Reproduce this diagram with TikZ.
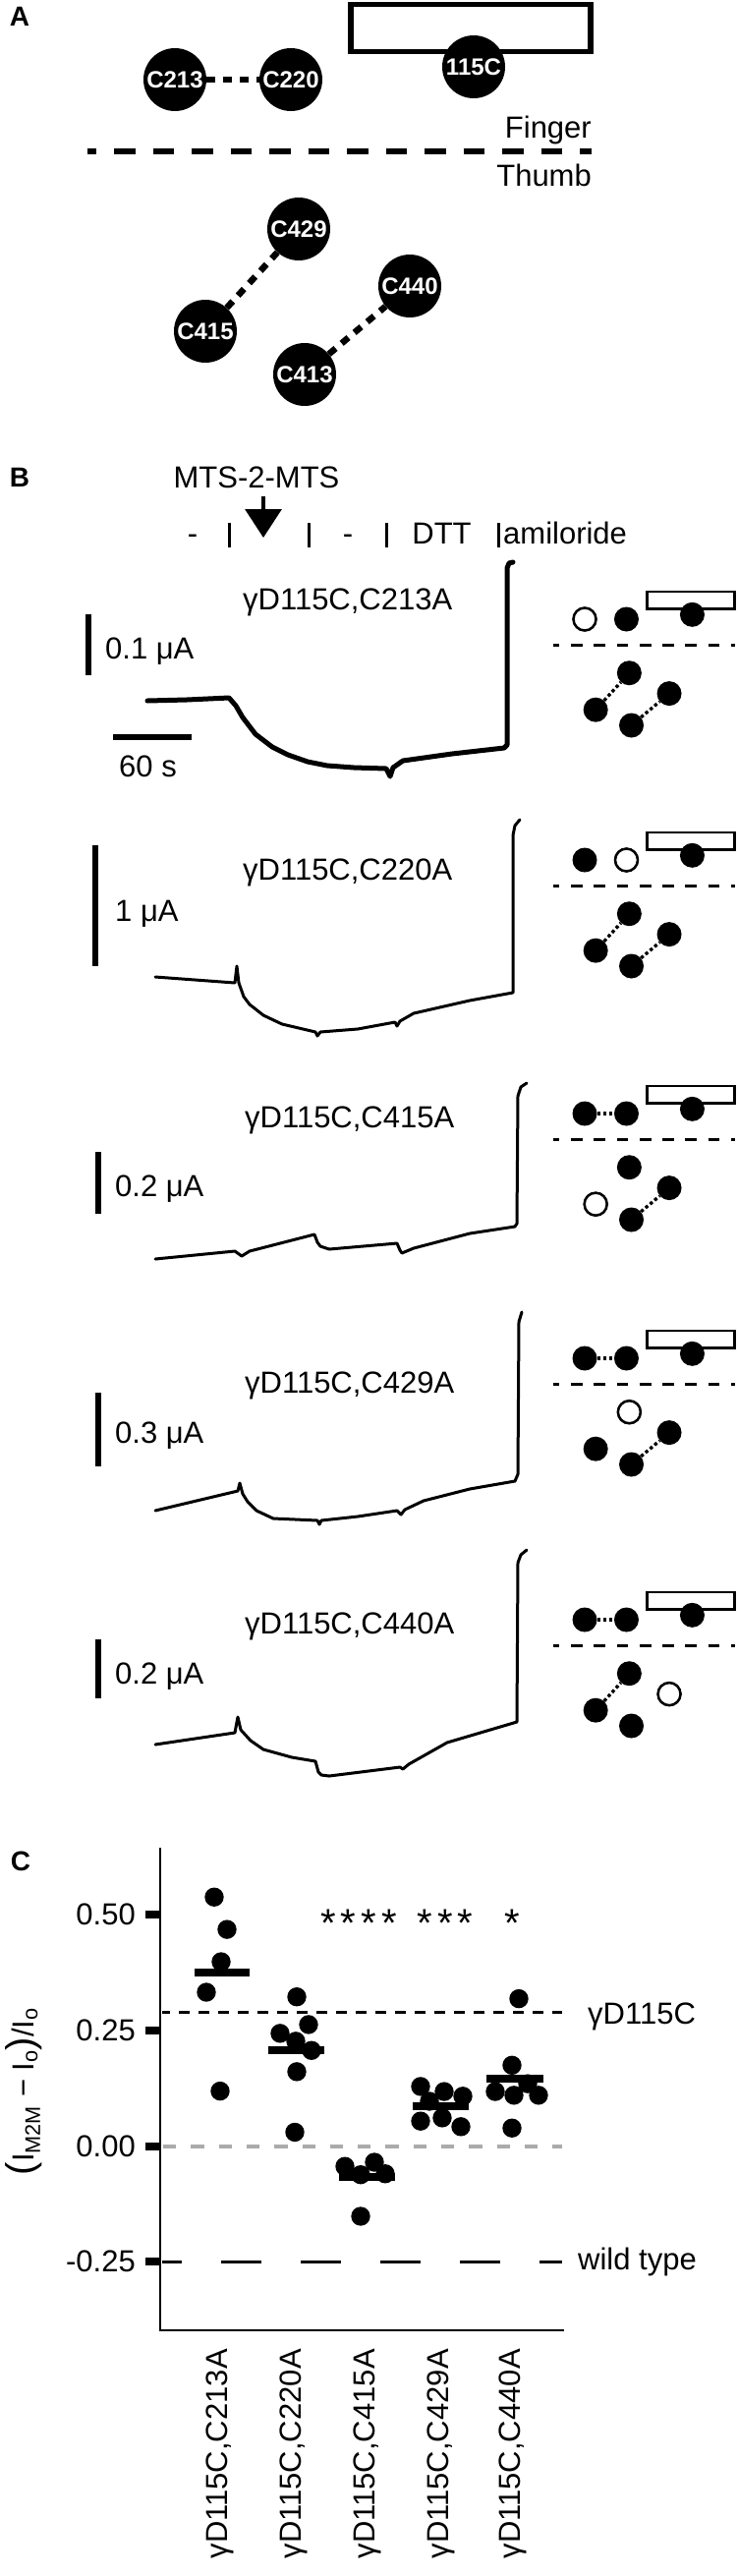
\documentclass[tikz,border=0pt]{standalone}
\usepackage{fontspec}
\setmainfont{Liberation Sans}
\usetikzlibrary{arrows.meta}

\begin{document}
\begin{tikzpicture}[x=1pt, y=-1pt,
		txt/.style={inner sep=0pt, font=\fontsize{31}{36}\selectfont},
		panel/.style={inner sep=0pt, font=\bfseries\fontsize{28}{32}\selectfont},
		cys/.style={circle, fill=black, text=white, minimum size=64pt, inner sep=0pt, font=\bfseries\fontsize{24}{24}\selectfont},
		link/.style={line width=6.5pt, dash pattern=on 9pt off 8pt},
		cur/.style={line width=3pt, line join=round, line cap=round},
		scalebar/.style={line width=6pt},
		minidot/.style={circle, fill=black, minimum size=25pt, inner sep=0pt},
		miniopen/.style={circle, draw=black, fill=white, line width=2.5pt, minimum size=23pt, inner sep=0pt},
		minilink/.style={line width=3.3pt, dash pattern=on 3.3pt off 2.7pt},
		meanbar/.style={line width=8pt},
		tickmark/.style={fill=black}]
	\useasboundingbox (0,0) rectangle (750,2621);

	\node[panel] (labA) at (20,17) {A};
	\draw[line width=5.5pt] (357,4.5) rectangle (601,52.5);
	\node[cys] (c213) at (178,81) {C213};
	\node[cys] (c220) at (296,81) {C220};
	\node[cys] (c115) at (482,68) {115C};
	\node[cys] (c429) at (304,233) {C429};
	\node[cys] (c440) at (417,291) {C440};
	\node[cys] (c415) at (209,337) {C415};
	\node[cys] (c413) at (310,381) {C413};
	\draw[link] (c213) -- (c220);
	\draw[link] (c415) -- (c429);
	\draw[link] (c413) -- (c440);
	\node[txt, anchor=base east] (finger) at (602,140) {Finger};
	\node[txt, anchor=base east] (thumb) at (602,189) {Thumb};
	\coordinate (splitL) at (88.5,154);
	\coordinate (splitR) at (602,154);
	\draw[line width=6.5pt, dash pattern=on 21.5pt off 18pt, dash phase=12pt] (splitL) -- (splitR);

	\node[panel] (labB) at (20,486) {B};
	\node[txt] (mts) at (261,486) {MTS-2-MTS};
	\node[txt, anchor=base] (wash1) at (196,553) {-};
	\node[txt, anchor=base] (wash2) at (354,553) {-};
	\node[txt, anchor=base] (dtt) at (449.5,553) {DTT};
	\node[txt, anchor=base west] (amil) at (512,553) {amiloride};
	\foreach \bx in {233,314,393,507}
		\draw[line width=3pt] (\bx,532) -- (\bx,557);
	\coordinate (mtsTop) at (268,505);
	\coordinate (mtsTip) at (268,547);
	\draw[line width=3.3pt, -{Triangle[width=37pt,length=29pt]}] (mtsTop) -- (mtsTip);

	\draw[cur, line width=5pt] (150,713) -- (190,712) -- (233,710) -- (240,718) -- (247,730) -- (260,747) -- (277,760) -- (293,768) -- (313,775) -- (333,779) -- (360,781) -- (393,782) -- (397,790) -- (400,781) -- (410,774) -- (460,767) -- (513,761) -- (516,758) -- (516,578) -- (518,573) -- (522,572);
	\draw[cur] (158,994) -- (239,1000) -- (241,983) -- (243,1000) -- (248,1014) -- (254,1022) -- (268,1033) -- (287,1042) -- (321,1050) -- (323,1054) -- (326,1050) -- (364,1047) -- (402,1040) -- (404,1044) -- (407,1039) -- (421,1031) -- (478,1018) -- (522,1010) -- (522,850) -- (524,840) -- (529,834);
	\draw[cur] (158,1281) -- (239,1273) -- (246,1278) -- (254,1273) -- (320,1256) -- (323,1264) -- (326,1268) -- (335,1271) -- (404,1265) -- (407,1272) -- (409,1275) -- (421,1270) -- (478,1255) -- (524,1248) -- (526,1245) -- (527,1115) -- (530,1106) -- (536,1102);
	\draw[cur] (158,1537) -- (242,1517) -- (244,1509) -- (247,1520) -- (252,1528) -- (261,1537) -- (278,1545) -- (323,1547) -- (325,1551) -- (327,1547) -- (364,1543) -- (404,1537) -- (408,1541) -- (412,1536) -- (431,1527) -- (478,1515) -- (524,1507) -- (527,1500) -- (528,1345) -- (531,1335);
	\draw[cur] (158,1775) -- (239,1763) -- (242,1747) -- (245,1760) -- (255,1771) -- (268,1780) -- (297,1788) -- (321,1792) -- (324,1803) -- (327,1806) -- (335,1807) -- (407,1798) -- (410,1800) -- (416,1795) -- (455,1773) -- (526,1752) -- (527,1590) -- (530,1582) -- (536,1577);

	\draw[scalebar] (90,625) -- (90,687);
	\node[txt, anchor=base west] (sc1) at (107,670) {0.1 μA};
	\draw[scalebar] (115,750) -- (195,750);
	\node[txt, anchor=base] (sec) at (150.5,790) {60 s};
	\draw[scalebar] (97,860) -- (97,983);
	\node[txt, anchor=base west] (sc2) at (117,937) {1 μA};
	\draw[scalebar] (100,1172) -- (100,1235);
	\node[txt, anchor=base west] (sc3) at (117,1217) {0.2 μA};
	\draw[scalebar] (100,1417) -- (100,1492);
	\node[txt, anchor=base west] (sc4) at (117,1468) {0.3 μA};
	\draw[scalebar] (100,1668) -- (100,1728);
	\node[txt, anchor=base west] (sc5) at (117,1713) {0.2 μA};

	\node[txt, anchor=base west] (mut1) at (247,620) {γD115C,C213A};
	\node[txt, anchor=base west] (mut2) at (247,895) {γD115C,C220A};
	\node[txt, anchor=base west] (mut3) at (249,1147) {γD115C,C415A};
	\node[txt, anchor=base west] (mut4) at (249,1417) {γD115C,C429A};
	\node[txt, anchor=base west] (mut5) at (249,1662) {γD115C,C440A};

	\foreach \yy/\open [count=\i] in {630/C213,875/C220,1133/C415,1382/C429,1648/C440} {
		\begin{scope}[shift={(595,\yy)}, scale=0.36]
			\draw[line width=2.7pt] (176,-77.5) rectangle (423,-28.5);
			\draw[line width=3.3pt, dash pattern=on 11.7pt off 11.6pt, dash phase=5pt] (-90,73) -- (425,73);
			\foreach \nm/\px/\py in {C213/0/0,C220/118/0,115C/304/-13,C429/126/152,C415/31/256,C440/239/210,C413/132/300}
				\node[minidot] (m\i-\nm) at (\px,\py) {};
			\node[miniopen] (m\i-open) at (m\i-\open) {};
			\foreach \a/\b in {C213/C220,C415/C429,C413/C440} {
				\ifx\a\open\else\ifx\b\open\else
					\draw[minilink] (m\i-\a) -- (m\i-\b);
				\fi\fi
			}
		\end{scope}
	}

	\node[panel] (labC) at (21,1894) {C};
	\draw[line width=2.7pt] (163,1880) -- (163,2371) -- (574,2371);
	\foreach \ty/\tl in {1948/0.50,2066/0.25,2184/0.00,2301/-0.25} {
		\fill[tickmark] (148,\ty-4) rectangle (163,\ty+4);
		\node[txt, anchor=east] (t\tl) at (138,\ty) {\tl};
	}
	\node[txt, rotate=90] (ylab) at (24,2128) {{\fontsize{40}{40}\selectfont(}I\textsubscript{M2M} − I\textsubscript{o}{\fontsize{40}{40}\selectfont)}/I\textsubscript{o}};

	\begin{scope}[shift={(0,2184)}, y=470pt]
		\draw[line width=3pt, dash pattern=on 11pt off 9pt, dash phase=3pt] (165,0.29) -- (572,0.29);
		\draw[line width=3.3pt, black!33, dash pattern=on 13.3pt off 15pt] (166,0) -- (572,0);
		\draw[line width=3.3pt, dash pattern=on 41pt off 40pt, dash phase=21pt] (165,-0.25) -- (572,-0.25);
		\foreach \px/\py in {218/0.54,231/0.47,225/0.40,210/0.334,224/0.12,
				302/0.324,285/0.245,314/0.264,301/0.228,317/0.208,302/0.162,300/0.031,
				351/-0.043,381/-0.034,367/-0.061,392/-0.059,367/-0.151,
				428/0.13,452/0.119,471/0.109,437/0.098,428/0.055,450/0.062,469/0.043,
				528/0.32,521/0.176,537/0.136,504/0.119,523/0.111,548/0.111,521/0.04}
			\fill (\px,\py) circle[radius=9.7pt];
		\draw[meanbar] (198,0.376) -- (254,0.376);
		\draw[meanbar] (273,0.208) -- (330,0.208);
		\draw[meanbar] (345,-0.066) -- (402,-0.066);
		\draw[meanbar] (420,0.087) -- (477,0.087);
		\draw[meanbar] (495,0.146) -- (553,0.146);
	\end{scope}

	\node[inner sep=0pt, font=\fontsize{40}{40}\selectfont] (sig3) at (365,1957) {*\kern5pt*\kern5pt*\kern5pt*};
	\node[inner sep=0pt, font=\fontsize{40}{40}\selectfont] (sig4) at (453,1957) {*\kern5pt*\kern5pt*};
	\node[inner sep=0pt, font=\fontsize{40}{40}\selectfont] (sig5) at (521,1957) {*};
	\node[txt, anchor=base west] (refwt) at (598,2059) {γD115C};
	\node[txt, anchor=base west] (wt) at (588,2309) {wild type};

	\foreach \cx/\mut in {224/C213A,299/C220A,374/C415A,449/C429A,522/C440A}
		\node[txt, rotate=90, anchor=east] (x\mut) at (\cx,2390) {γD115C,\mut};
\end{tikzpicture}
\end{document}
